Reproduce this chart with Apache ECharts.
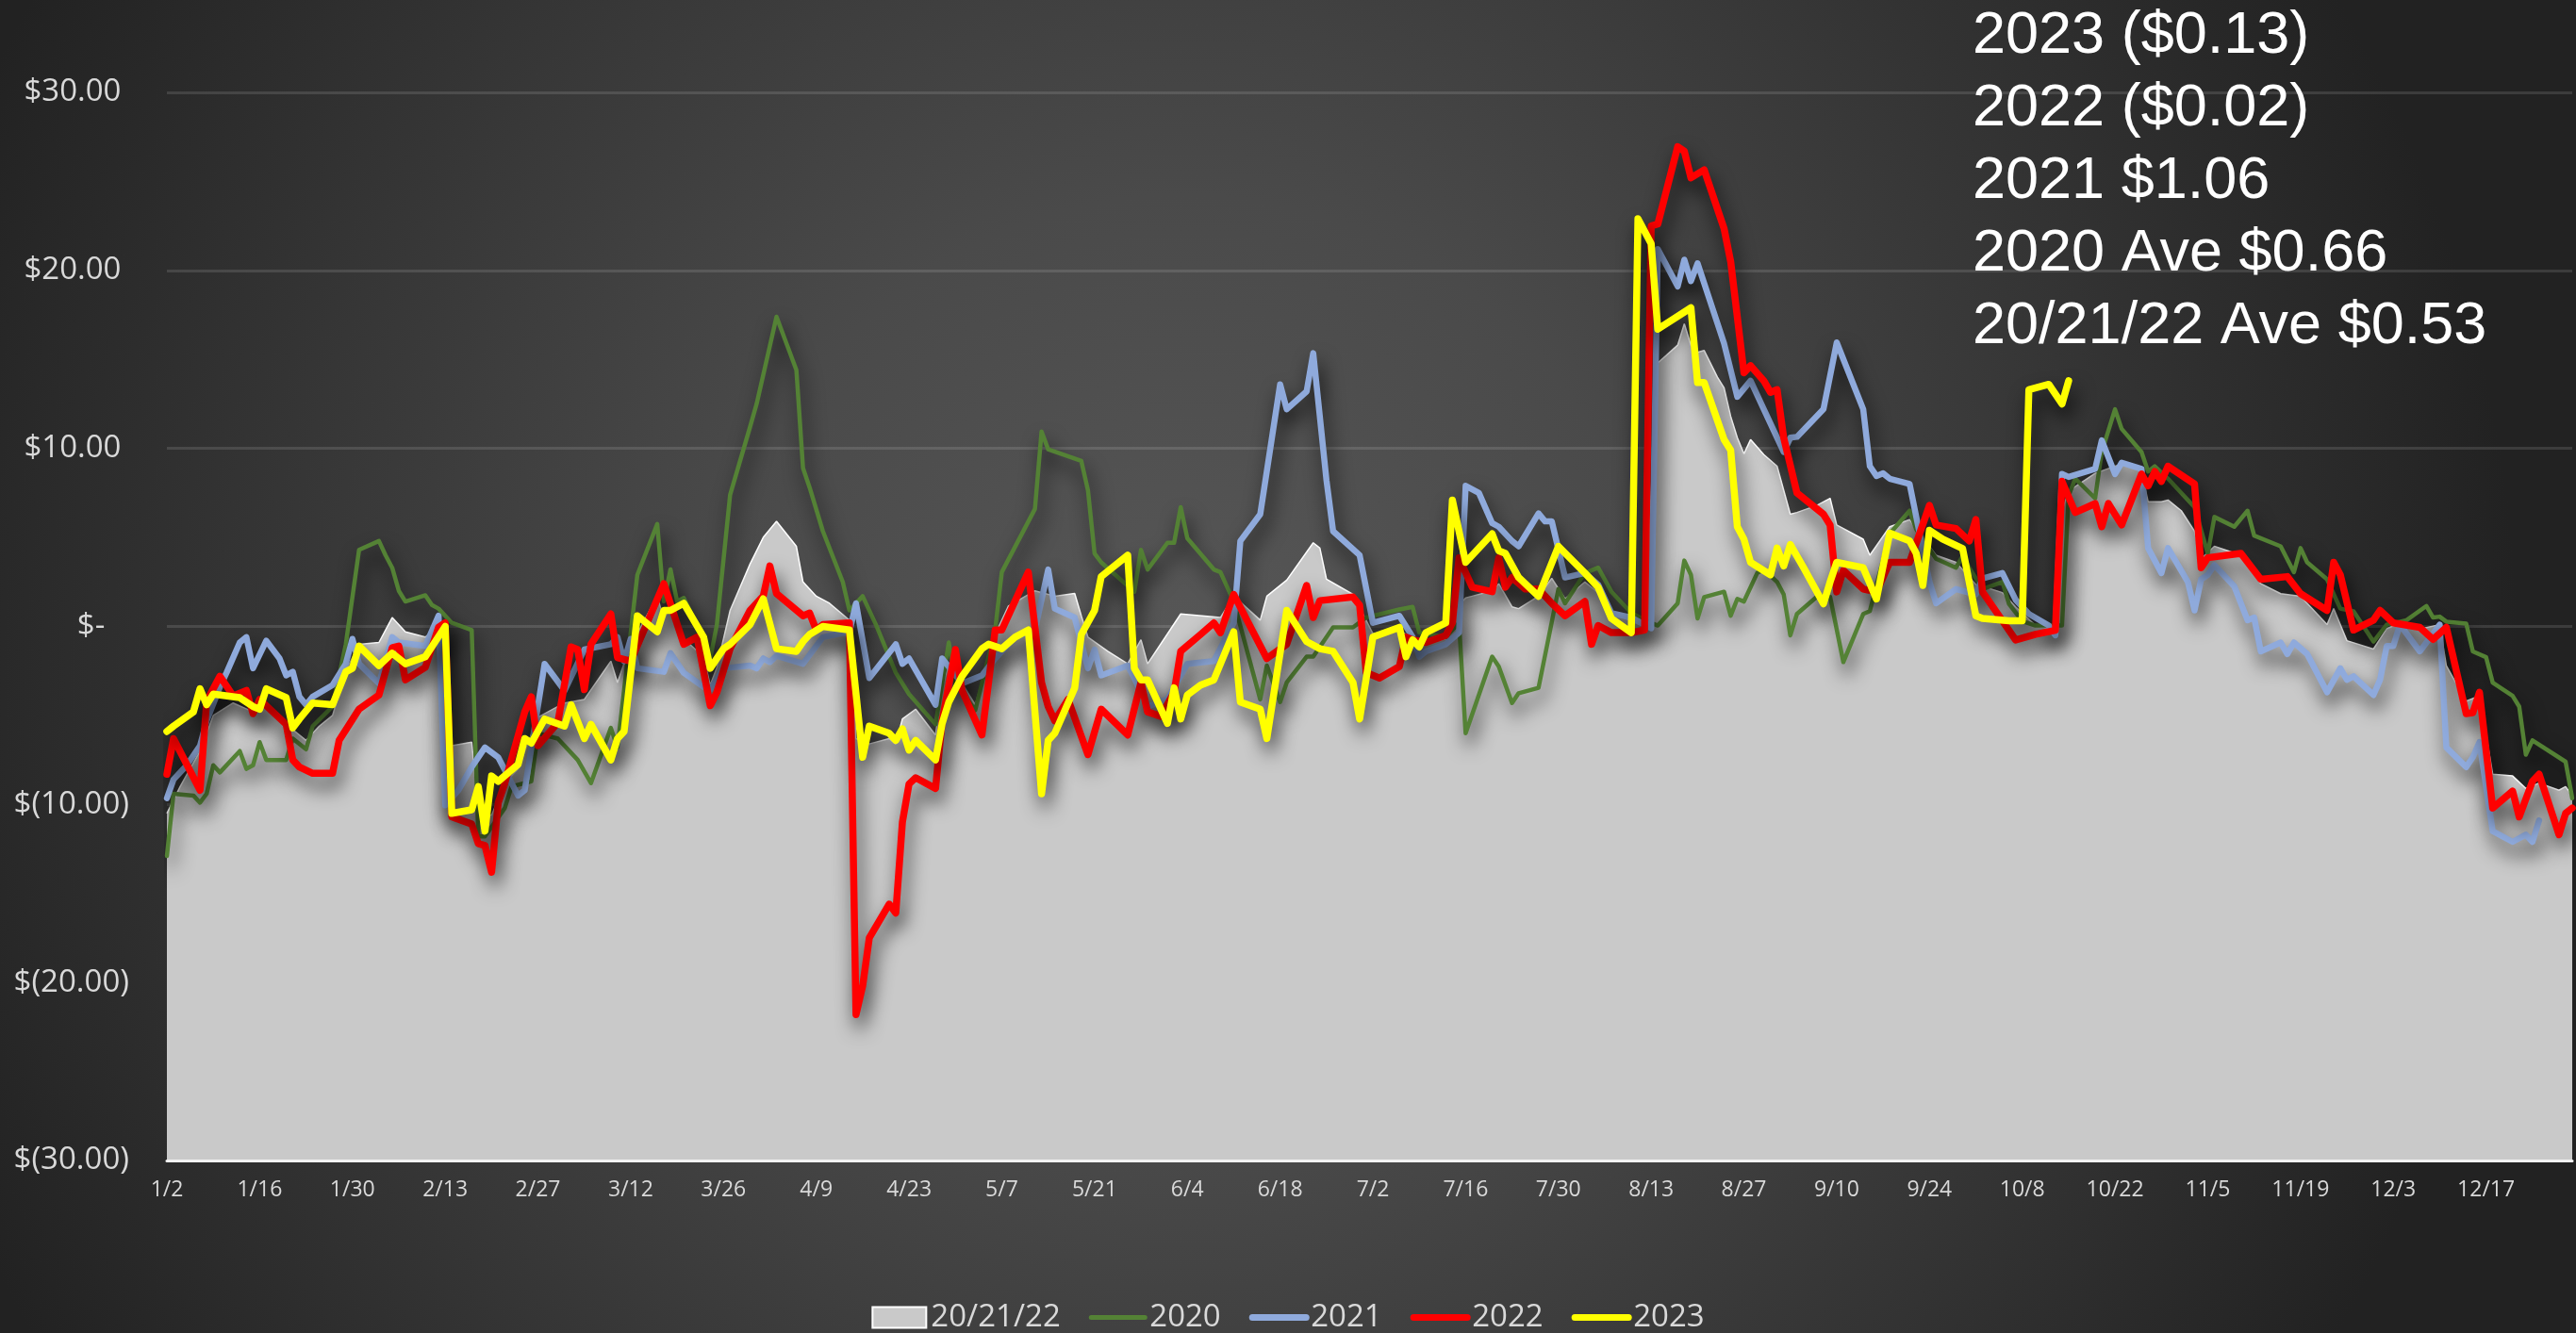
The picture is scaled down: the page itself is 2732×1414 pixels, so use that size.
<!DOCTYPE html>
<html>
<head>
<meta charset="utf-8">
<script src="https://cdn.jsdelivr.net/npm/echarts@6/dist/echarts.min.js"></script>
<style>
	html, body { margin: 0; padding: 0; }
	#chart {
		width: 2732px;
		height: 1414px;
		background: radial-gradient(circle at 46% 50%, #575757 0px, #4a4a4a 500px, #222222 1414px);
	}
</style>
</head>
<body>
<div id="chart"></div>
<script>
// tick labels (x is day index from 1/2, one label every 14 days)
const xTickLabels = ['1/2', '1/16', '1/30', '2/13', '2/27', '3/12', '3/26', '4/9', '4/23', '5/7', '5/21', '6/4', '6/18',
	'7/2', '7/16', '7/30', '8/13', '8/27', '9/10', '9/24', '10/8', '10/22', '11/5', '11/19', '12/3', '12/17'];
const yTickValues = [-30, -20, -10, 0, 10, 20, 30];
const yTickLabels = ['$(30.00)', '$(20.00)', '$(10.00)', '$-', '$10.00', '$20.00', '$30.00'];

const annotationLines = ['2023 ($0.13)', '2022 ($0.02)', '2021 $1.06', '2020 Ave $0.66', '20/21/22 Ave $0.53'];

// [day, value]
const avg202122 = [[0, -10.5], [2, -9.0], [5, -7.0], [7, -5.0], [10, -4.3], [13, -4.8], [15, -4.5], [18, -5.5], [21, -6.4], [23, -5.6],
	[25, -5.0], [27, -2.5], [29, -1.0], [32, -0.9], [34, 0.5], [36, -0.3], [39, -0.6], [41, 0.0], [42, -3.2], [43, -6.7], [46, -6.5],
	[47, -10.5], [49, -10.6], [51, -8.8], [53, -8.0], [56, -5.1], [60, -4.3], [63, -4.1], [67, -1.95], [68, -3.15], [70, -1.0], [71, -0.4],
	[74, 1.7], [75, 0.4], [76, 1.1], [78, -0.7], [81, -1.7], [82, -3.3], [83, -2.3], [85, 0.9], [88, 3.5], [90, 5.0], [92, 5.9], [95, 4.5],
	[96, 2.5], [98, 1.7], [100, 1.3], [103, 0.35], [104, -6.3], [106, -6.6], [109, -6.3], [110, -6.6], [111, -5.2], [113, -4.65], [116, -6.1],
	[117, -3.4], [118, -2.2], [119, -2.4], [120, -3.2], [122, -4.4], [125, -0.45], [127, 1.15], [131, 2.0], [134, 1.7], [137, 1.85], [138, 0.6],
	[139, -0.6], [142, -1.4], [145, -2.1], [147, -0.75], [148, -2.1], [153, 0.7], [159, 0.5], [161, 1.7], [165, 0.35], [166, 1.7], [169, 2.6],
	[173, 4.7], [174, 4.4], [175, 2.65], [179, 1.8], [182, -0.4], [186, -0.2], [189, -0.95], [193, -0.7], [195, 1.2], [196, 1.6], [197, 1.7],
	[200, 2.0], [201, 2.4], [203, 1.1], [204, 1.0], [207, 1.7], [209, 2.7], [211, 1.55], [214, 2.5], [216, 1.9], [218, 0.8], [221, 0.3],
	[223, 0.0], [224, 7.5], [225, 14.8], [228, 15.8], [229, 17.0], [230, 15.8], [231, 15.4], [232, 15.5], [234, 14.0], [235, 13.4], [236, 11.8],
	[237, 10.6], [238, 9.7], [239, 10.5], [241, 9.65], [243, 9.0], [245, 6.3], [246, 6.4], [249, 6.8], [251, 7.2], [252, 5.7], [256, 4.9],
	[257, 4.0], [260, 5.6], [263, 6.0], [264, 5.45], [266, 4.5], [267, 4.0], [270, 3.6], [273, 2.35], [274, 2.25], [277, 1.9], [279, 1.1],
	[282, 0.05], [285, -0.2], [286, 6.5], [287, 7.6], [291, 8.6], [294, 9.0], [296, 9.2], [298, 8.7], [299, 7.0], [301, 7.0], [302, 7.1],
	[304, 6.5], [306, 5.35], [307, 3.8], [309, 4.5], [313, 4.0], [316, 2.4], [319, 1.84], [322, 1.7], [326, 0.1], [327, 1.0], [329, -0.8],
	[333, -1.27], [335, -0.13], [337, 0.2], [340, -0.15], [343, 0.1], [344, -2.2], [347, -4.2], [349, -3.9], [351, -8.3], [354, -8.4],
	[356, -9.1], [358, -8.8], [361, -9.2], [362, -9.0], [363, -9.5]];

const y2020 = [[0, -12.9], [1, -9.4], [4, -9.5], [5, -9.9], [6, -9.4], [7, -7.8], [8, -8.2], [11, -7.0], [12, -8.0], [13, -7.8], [14, -6.5],
	[15, -7.5], [18, -7.5], [19, -6.3], [21, -6.9], [22, -5.6], [25, -4.5], [27, -1.0], [29, 4.3], [32, 4.8], [33, 4.0], [34, 3.3], [35, 2.0],
	[36, 1.4], [39, 1.75], [40, 1.2], [41, 1.0], [43, 0.2], [46, -0.2], [47, -11.8], [48, -11.8], [51, -10.2], [52, -9.0], [55, -8.7],
	[56, -6.0], [59, -6.3], [62, -7.5], [64, -8.8], [67, -5.7], [68, -6.8], [71, 2.9], [74, 5.75], [75, 1.4], [76, 3.2], [77, 1.4], [78, 1.6],
	[81, -0.7], [82, -1.8], [83, 0.1], [85, 7.4], [88, 11.2], [89, 12.5], [92, 17.4], [95, 14.4], [96, 8.9], [97, 7.8], [99, 5.35],
	[102, 2.5], [103, 0.9], [105, 1.7], [107, 0.1], [110, -2.6], [112, -3.8], [116, -5.5], [118, -0.9], [119, -3.2], [122, -4.7],
	[125, -0.2], [126, 3.05], [131, 6.6], [132, 10.95], [133, 9.95], [138, 9.3], [139, 7.65], [140, 4.1], [141, 3.6], [146, 1.95], [147, 4.3],
	[148, 3.2], [151, 4.7], [152, 4.7], [153, 6.7], [154, 4.95], [158, 3.2], [159, 3.05], [161, 1.4], [165, -4.1], [166, -2.2], [168, -4.25],
	[169, -3.15], [172, -1.7], [173, -1.7], [176, -0.05], [179, -0.05], [181, 0.5], [186, 0.95], [188, 1.1], [189, -0.35], [193, -0.6],
	[195, 0.2], [196, -6.0], [200, -1.7], [201, -2.25], [203, -4.3], [204, -3.75], [207, -3.45], [210, 2.1], [211, 1.3], [214, 3.0],
	[216, 3.3], [218, 1.95], [221, 0.75], [224, 0.2], [225, 0.05], [228, 1.3], [229, 3.7], [230, 2.9], [231, 0.45], [232, 1.65], [235, 1.95],
	[236, 0.6], [237, 1.55], [238, 1.4], [240, 3.0], [241, 3.2], [243, 2.5], [244, 1.8], [245, -0.5], [246, 0.7], [249, 1.67], [251, 1.67],
	[253, -2.0], [256, 0.7], [257, 0.86], [260, 5.2], [263, 6.5], [264, 5.45], [267, 3.8], [270, 3.3], [271, 3.97], [272, 3.3], [274, 2.1],
	[277, 2.5], [278, 1.27], [280, 0.3], [282, 0.05], [286, 0.05], [287, 7.35], [288, 8.3], [291, 7.2], [292, 9.8], [294, 12.2], [295, 11.1],
	[298, 9.8], [299, 8.7], [300, 9.0], [302, 8.3], [306, 6.7], [308, 4.1], [309, 6.15], [312, 5.6], [314, 6.5], [315, 5.1], [319, 4.5],
	[321, 3.05], [322, 4.4], [323, 3.6], [326, 2.65], [328, 1.0], [330, 0.85], [333, -0.85], [335, 0.1], [338, 0.35], [341, 1.15], [342, 0.5],
	[343, 0.55], [344, 0.27], [347, 0.16], [348, -1.4], [350, -1.73], [351, -3.16], [354, -3.9], [355, -4.5], [356, -7.2], [357, -6.4],
	[362, -7.6], [363, -9.65]];

const y2021 = [[0, -9.65], [1, -8.6], [3, -7.8], [5, -6.7], [6, -5.3], [8, -3.4], [9, -2.6], [11, -0.9], [12, -0.6], [13, -2.35], [15, -0.8],
	[17, -1.8], [18, -2.75], [19, -2.55], [20, -3.95], [21, -4.4], [22, -3.95], [25, -3.3], [27, -2.1], [28, -0.7], [29, -2.1], [32, -3.2],
	[34, -0.6], [35, -0.9], [39, -1.1], [41, 0.6], [42, -10.05], [44, -9.2], [46, -7.9], [48, -6.8], [50, -7.35], [53, -9.5], [54, -9.2],
	[57, -2.1], [60, -3.6], [63, -1.3], [67, -1.0], [68, -0.6], [69, -1.95], [70, -0.7], [71, -2.35], [75, -2.55], [76, -1.5], [78, -2.6],
	[81, -3.4], [82, -3.55], [84, -2.35], [88, -2.2], [89, -2.35], [90, -1.8], [91, -2.0], [92, -1.65], [96, -2.1], [99, -0.6], [103, -0.3],
	[104, 1.3], [106, -2.9], [110, -1.0], [111, -2.1], [112, -1.8], [116, -4.4], [117, -1.8], [120, -3.2], [123, -2.75], [125, -1.8],
	[128, -0.6], [131, -0.2], [133, 3.2], [134, 1.0], [137, 0.5], [139, -2.35], [140, -1.3], [141, -2.75], [145, -2.2], [146, -2.9],
	[148, -4.5], [151, -4.1], [154, -2.1], [158, -1.95], [161, 0.2], [162, 4.8], [165, 6.3], [168, 13.6], [169, 12.2], [172, 13.2],
	[173, 15.35], [175, 8.2], [176, 5.35], [180, 4.0], [182, 0.2], [186, 0.6], [188, -0.6], [189, -1.7], [190, -1.4], [193, -1.0],
	[195, -0.35], [196, 7.9], [198, 7.5], [200, 5.8], [201, 5.6], [203, 4.8], [204, 4.5], [207, 6.35], [208, 5.9], [209, 5.9], [211, 2.75],
	[214, 3.0], [216, 2.35], [218, 0.75], [221, 0.5], [224, -0.1], [225, 21.2], [228, 19.1], [229, 20.6], [230, 19.4], [231, 20.4],
	[235, 15.9], [237, 12.9], [239, 13.8], [241, 12.2], [244, 9.8], [245, 10.6], [246, 10.65], [250, 12.2], [252, 15.95], [256, 12.2],
	[257, 9.0], [258, 8.45], [259, 8.6], [260, 8.3], [263, 8.0], [266, 2.5], [267, 1.3], [270, 2.1], [273, 1.8], [274, 2.7], [277, 3.0],
	[279, 1.5], [281, 0.7], [284, 0.05], [285, -0.5], [286, 8.56], [287, 8.4], [291, 8.85], [292, 10.45], [294, 8.56], [295, 9.2], [298, 8.85],
	[299, 4.4], [301, 3.0], [302, 4.4], [305, 2.5], [306, 0.9], [307, 2.65], [308, 2.9], [309, 3.45], [312, 2.25], [314, 0.35], [315, 0.5],
	[316, -1.4], [319, -0.9], [320, -1.55], [321, -0.9], [323, -1.55], [326, -3.7], [328, -2.35], [329, -3.0], [330, -2.8], [333, -3.85],
	[334, -3.0], [335, -1.1], [336, -1.1], [337, 0.1], [340, -1.4], [343, 0.1], [344, -6.8], [347, -7.9], [348, -7.35], [349, -6.5],
	[351, -11.5], [354, -12.1], [356, -11.7], [357, -12.1], [358, -10.9]];

const y2022 = [[0, -8.3], [1, -6.3], [5, -9.2], [6, -4.2], [8, -2.8], [10, -3.9], [12, -3.6], [13, -4.9], [14, -4.1], [18, -5.5], [19, -7.5],
	[20, -7.9], [22, -8.25], [25, -8.25], [26, -6.4], [29, -4.65], [32, -3.85], [34, -1.2], [35, -1.1], [36, -3.0], [39, -2.3], [41, -0.05],
	[42, 0.2], [43, -10.7], [46, -11.1], [47, -12.2], [48, -12.3], [49, -13.8], [50, -9.9], [51, -8.8], [54, -4.8], [55, -3.95], [56, -6.7],
	[59, -5.4], [61, -1.15], [62, -1.3], [63, -3.55], [64, -1.0], [67, 0.7], [68, -1.75], [70, -1.95], [75, 2.4], [78, -1.0], [80, -0.6],
	[82, -4.45], [83, -3.7], [85, -1.25], [88, 0.9], [90, 1.7], [91, 3.4], [92, 1.85], [96, 0.6], [97, 0.75], [98, -0.2], [99, 0.1],
	[103, 0.2], [104, -21.8], [105, -20.2], [106, -17.5], [109, -15.6], [110, -16.1], [111, -11.0], [112, -8.85], [113, -8.5], [116, -9.1],
	[117, -5.3], [119, -1.3], [120, -3.6], [123, -6.1], [125, -0.2], [126, -0.2], [130, 3.05], [132, -3.15], [133, -4.5], [134, -5.3],
	[136, -4.1], [139, -7.2], [141, -4.65], [145, -6.1], [147, -3.15], [148, -4.8], [150, -5.05], [152, -3.7], [153, -1.4], [156, -0.45],
	[158, 0.2], [159, -0.35], [161, 1.8], [163, 0.35], [166, -1.8], [169, -1.0], [172, 2.3], [173, 0.5], [174, 1.45], [179, 1.65], [180, 1.2],
	[181, -2.6], [183, -2.9], [186, -2.25], [187, -0.6], [188, -0.75], [190, -0.9], [193, -0.5], [194, 0.2], [195, 3.85], [197, 2.2],
	[200, 1.95], [201, 3.85], [202, 2.2], [203, 2.75], [205, 2.1], [207, 2.1], [209, 1.3], [211, 0.6], [214, 1.4], [215, -1.0], [216, 0.05],
	[218, -0.35], [221, -0.35], [223, -0.2], [224, 22.5], [225, 22.6], [228, 26.95], [229, 26.7], [230, 25.2], [232, 25.65], [235, 22.35],
	[236, 20.5], [238, 14.25], [239, 14.65], [241, 13.8], [242, 13.15], [243, 13.3], [244, 10.6], [246, 7.5], [250, 6.3], [251, 5.7],
	[252, 1.94], [253, 3.15], [256, 2.1], [258, 1.94], [260, 3.6], [263, 3.6], [266, 6.8], [267, 5.7], [270, 5.5], [272, 4.8], [273, 6.0],
	[274, 1.94], [277, 0.32], [279, -0.76], [282, -0.44], [285, -0.22], [286, 8.15], [288, 6.4], [291, 6.9], [292, 5.6], [293, 6.9], [295, 5.7],
	[298, 8.56], [299, 7.9], [300, 8.7], [301, 8.15], [302, 9.0], [306, 8.0], [307, 3.3], [308, 3.86], [313, 4.1], [316, 2.65], [320, 2.8],
	[322, 1.84], [326, 0.9], [327, 3.6], [328, 2.9], [330, -0.2], [333, 0.35], [334, 0.9], [336, 0.2], [340, -0.05], [342, -0.73],
	[344, -0.05], [347, -4.9], [348, -4.85], [349, -3.7], [351, -10.2], [354, -9.25], [355, -10.7], [357, -8.7], [358, -8.3], [361, -11.7],
	[362, -10.5], [363, -10.2]];

const y2023 = [[0, -5.9], [1, -5.6], [4, -4.8], [5, -3.5], [6, -4.4], [7, -3.8], [11, -4.0], [13, -4.5], [14, -4.65], [15, -3.5], [18, -4.0],
	[19, -5.7], [20, -5.2], [22, -4.3], [25, -4.4], [27, -2.55], [28, -2.35], [29, -1.1], [32, -2.2], [34, -1.5], [36, -2.1], [39, -1.7],
	[42, 0.0], [43, -10.5], [46, -10.3], [47, -9.0], [48, -11.5], [49, -8.4], [50, -8.7], [53, -7.75], [54, -6.3], [55, -6.55], [57, -5.2],
	[60, -5.6], [61, -4.4], [63, -6.3], [64, -5.5], [67, -7.5], [68, -6.3], [69, -5.9], [71, 0.6], [74, -0.3], [75, 0.9], [76, 0.9], [78, 1.3],
	[81, -0.6], [82, -2.35], [84, -1.25], [85, -1.0], [88, 0.1], [90, 1.55], [92, -1.25], [95, -1.4], [96, -0.85], [97, -0.45], [99, 0.0],
	[103, -0.2], [105, -7.35], [106, -5.6], [109, -6.0], [110, -6.4], [111, -5.75], [112, -6.95], [113, -6.4], [116, -7.5], [117, -5.45],
	[118, -4.25], [120, -2.8], [123, -1.25], [124, -1.0], [126, -1.25], [128, -0.6], [130, -0.2], [132, -9.4], [133, -6.4], [134, -6.0],
	[137, -3.45], [138, -0.45], [140, 0.9], [141, 2.8], [145, 4.0], [146, -2.35], [147, -3.0], [148, -3.0], [151, -5.45], [152, -3.45],
	[153, -5.2], [154, -3.85], [156, -3.3], [158, -3.0], [161, -0.3], [162, -4.25], [165, -4.65], [166, -6.3], [169, 0.9], [172, -0.85],
	[174, -1.25], [176, -1.4], [179, -3.15], [180, -5.2], [182, -0.6], [186, -0.05], [187, -1.7], [188, -0.75], [189, -1.15], [190, -0.35],
	[193, 0.2], [194, 7.1], [196, 3.6], [200, 5.2], [201, 4.25], [202, 4.1], [204, 2.75], [207, 1.7], [210, 4.5], [214, 3.0], [216, 2.2],
	[218, 0.45], [221, -0.35], [222, 22.9], [224, 21.5], [225, 16.7], [230, 17.9], [231, 13.7], [232, 13.7], [235, 10.5], [236, 9.9],
	[237, 5.6], [238, 4.9], [239, 3.6], [242, 2.9], [243, 4.4], [244, 3.4], [245, 4.6], [247, 3.3], [250, 1.27], [251, 2.5], [252, 3.6],
	[256, 3.3], [258, 1.54], [260, 5.24], [263, 4.8], [264, 4.1], [265, 2.3], [266, 5.4], [268, 4.9], [271, 4.37], [273, 0.6], [274, 0.45],
	[278, 0.32], [280, 0.32], [281, 13.3], [284, 13.6], [286, 12.5], [287, 13.8]];

const labelColor = '#d9d9d9';
const labelFont = "'Open Sans', 'Noto Sans', sans-serif";

function yLabel(value) {
	let text = yTickLabels[yTickValues.indexOf(value)];
	if (text === undefined) return '';
	if (value > 0) return text + ' ';
	if (value === 0) return text + '   ';
	return text;
}

// soft shadow under the coloured lines
function lineShadow(style) {
	style.shadowColor = 'rgba(0, 0, 0, 0.8)';
	style.shadowBlur = 20;
	style.shadowOffsetX = 4;
	style.shadowOffsetY = 12;
	style.cap = 'round';
	style.join = 'round';
	return style;
}

// legend entry for a line: hide the marker circle, keep a thick line
function lineLegend(name, width) {
	return {
		name: name,
		itemStyle: { opacity: 0 },
		lineStyle: { width: width, cap: 'round', shadowBlur: 0, shadowOffsetX: 0, shadowOffsetY: 0 }
	};
}

const chart = echarts.init(document.getElementById('chart'), null, {
	width: 2732,
	height: 1414,
	devicePixelRatio: 1
});

let option = {
	backgroundColor: 'transparent',
	animation: false,
	grid: {
		left: 177,
		right: 4,
		top: 98,
		bottom: 183
	},
	legend: {
		top: 1376,
		left: 'center',
		itemWidth: 57,
		itemHeight: 22,
		itemGap: 30,
		textStyle: {
			color: labelColor,
			fontSize: 33,
			fontFamily: labelFont
		},
		data: [
			{ name: '20/21/22', icon: 'rect', itemStyle: { color: '#c9c9c9', borderColor: '#ffffff', borderWidth: 2 } },
			lineLegend('2020', 5), lineLegend('2021', 7), lineLegend('2022', 7), lineLegend('2023', 7)
		]
	},
	xAxis: {
		type: 'value',
		min: 0,
		max: 363,
		interval: 14,
		z: 3,
		axisLine: {
			show: true,
			onZero: false,
			lineStyle: { color: '#f2f2f2', width: 3 }
		},
		axisTick: { show: false },
		splitLine: { show: false },
		axisLabel: {
			showMaxLabel: false,
			color: labelColor,
			fontSize: 23,
			fontFamily: labelFont,
			margin: 20,
			formatter: function (value) {
				let label = xTickLabels[value / 14];
				return label === undefined ? '' : label;
			}
		}
	},
	yAxis: {
		type: 'value',
		min: -30,
		max: 30,
		interval: 10,
		axisLine: { show: false },
		axisTick: { show: false },
		splitLine: {
			lineStyle: { color: 'rgba(255, 255, 255, 0.12)', width: 3 }
		},
		axisLabel: {
			color: labelColor,
			fontSize: 33,
			fontFamily: labelFont,
			margin: 40,
			formatter: yLabel
		}
	},
	series: [{
			name: '20/21/22',
			type: 'line',
			symbol: 'none',
			data: avg202122,
			itemStyle: { color: '#c9c9c9' },
			lineStyle: { color: '#ffffff', width: 1.5 },
			areaStyle: { color: '#c9c9c9', opacity: 1, origin: 'start' }
		},
		{
			name: '2020',
			type: 'line',
			symbol: 'none',
			data: y2020,
			itemStyle: { color: '#548235' },
			lineStyle: lineShadow({ color: '#548235', width: 4.5 })
		},
		{
			name: '2021',
			type: 'line',
			symbol: 'none',
			data: y2021,
			itemStyle: { color: '#8faadc' },
			lineStyle: lineShadow({ color: '#8faadc', width: 6.5 })
		},
		{
			name: '2022',
			type: 'line',
			symbol: 'none',
			data: y2022,
			itemStyle: { color: '#ff0000' },
			lineStyle: lineShadow({ color: '#ff0000', width: 7.5 })
		},
		{
			name: '2023',
			type: 'line',
			symbol: 'none',
			data: y2023,
			itemStyle: { color: '#ffff00' },
			lineStyle: lineShadow({ color: '#ffff00', width: 7.5 })
		}
	],
	graphic: [{
		type: 'text',
		left: 2092,
		top: 0,
		z: 100,
		style: {
			text: annotationLines.join('\n'),
			fill: '#ffffff',
			fontSize: 63,
			lineHeight: 77,
			fontFamily: "'Liberation Sans', Arial, sans-serif"
		}
	}]
};

chart.setOption(option);
</script>
</body>
</html>
